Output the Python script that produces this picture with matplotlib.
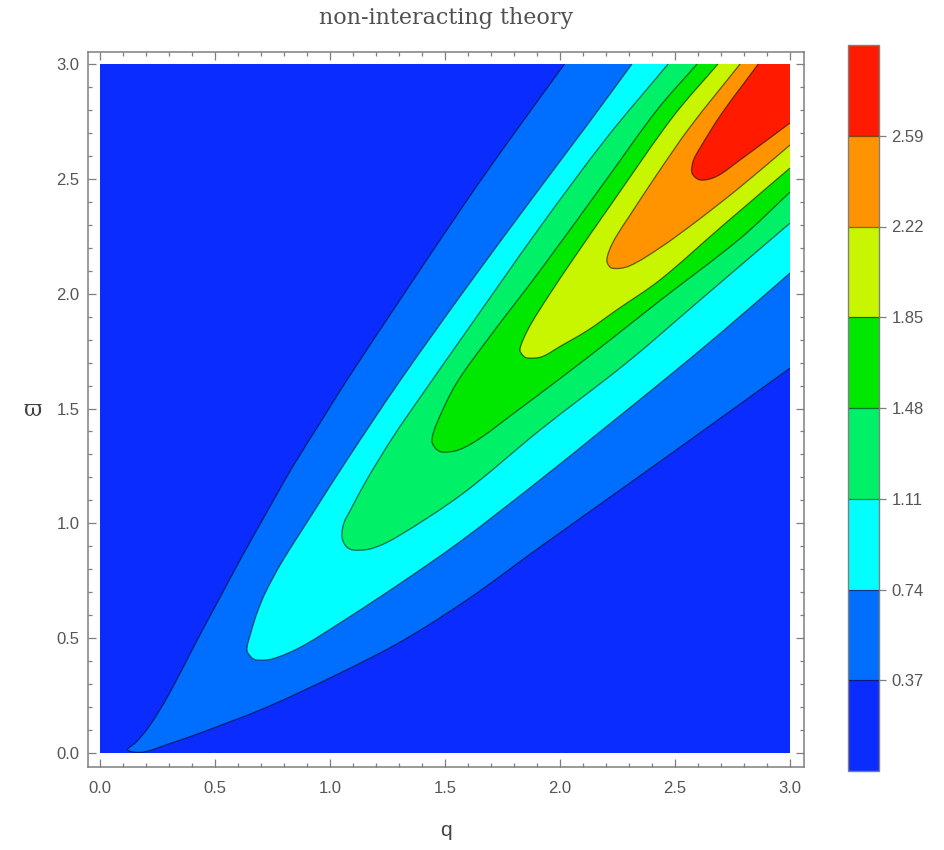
import numpy as np
import matplotlib.pyplot as plt
from matplotlib.colors import ListedColormap, BoundaryNorm
from matplotlib.path import Path
from matplotlib.patches import PathPatch

# contour levels and band colours (from the colour bar)
levels = [0.0, 0.37, 0.74, 1.11, 1.48, 1.85, 2.22, 2.59, 2.96]
band_colors = ['#0a2cff', '#006eff', '#00ffff', '#00f068',
               '#00e800', '#c8f500', '#ff9400', '#ff1a00']

# contour paths: top edge -> tip -> right edge
c1_q = [2.02, 1.77, 1.596, 1.304, 1.074, 0.965, 0.84, 0.76, 0.609, 0.509, 0.435, 0.36, 0.291, 0.217, 0.16, 0.12,
        0.187, 0.30, 0.435, 0.726, 1.043, 1.317, 1.60, 1.913, 2.45, 3.0]
c1_w = [3.0, 2.655, 2.407, 1.972, 1.624, 1.45, 1.25, 1.11, 0.84, 0.653, 0.515, 0.37, 0.24, 0.12, 0.05, 0.013,
        0.004, 0.04, 0.087, 0.2, 0.348, 0.49, 0.67, 0.897, 1.28, 1.676]

c2_q = [2.313, 2.13, 1.913, 1.596, 1.304, 1.074, 0.926, 0.79, 0.72, 0.683, 0.655, 0.639,
        0.66, 0.683, 0.75, 0.87, 1.043, 1.30, 1.565, 1.913, 2.2, 2.435, 2.7, 3.0]
c2_w = [3.0, 2.75, 2.46, 2.03, 1.62, 1.276, 1.045, 0.83, 0.70, 0.61, 0.52, 0.448,
        0.415, 0.405, 0.41, 0.46, 0.566, 0.735, 0.92, 1.189, 1.42, 1.61, 1.83, 2.09]

c3_q = [2.47, 2.204, 1.913, 1.596, 1.40, 1.274, 1.16, 1.09, 1.06, 1.052,
        1.07, 1.10, 1.18, 1.29, 1.578, 1.913, 2.291, 2.609, 3.0]
c3_w = [3.0, 2.68, 2.29, 1.84, 1.56, 1.376, 1.19, 1.06, 1.0, 0.94,
        0.90, 0.884, 0.89, 0.94, 1.13, 1.406, 1.70, 1.972, 2.307]

c4_q = [2.596, 2.422, 2.204, 1.913, 1.70, 1.55, 1.465, 1.443,
        1.46, 1.49, 1.56, 1.652, 1.80, 2.0, 2.22, 2.435, 2.783, 3.0]
c4_w = [3.0, 2.80, 2.50, 2.10, 1.82, 1.61, 1.437, 1.36,
        1.325, 1.31, 1.32, 1.37, 1.48, 1.63, 1.80, 1.97, 2.24, 2.442]

c5_q = [2.687, 2.491, 2.23, 2.057, 1.95, 1.875, 1.84, 1.826,
        1.84, 1.857, 1.92, 2.0, 2.12, 2.248, 2.435, 2.7, 3.0]
c5_w = [3.0, 2.77, 2.40, 2.15, 1.99, 1.87, 1.80, 1.754,
        1.73, 1.72, 1.725, 1.77, 1.84, 1.93, 2.06, 2.29, 2.547]

c6_q = [2.783, 2.565, 2.422, 2.30, 2.245, 2.215, 2.204,
        2.226, 2.30, 2.435, 2.6, 2.783, 3.0]
c6_w = [3.0, 2.725, 2.52, 2.335, 2.25, 2.19, 2.14,
        2.111, 2.12, 2.20, 2.32, 2.464, 2.647]

c7_q = [2.862, 2.70, 2.609, 2.58, 2.574,
        2.609, 2.68, 2.783, 3.0]
c7_w = [3.0, 2.78, 2.635, 2.58, 2.525,
        2.495, 2.51, 2.582, 2.743]

contours = [(c1_q, c1_w), (c2_q, c2_w), (c3_q, c3_w), (c4_q, c4_w),
            (c5_q, c5_w), (c6_q, c6_w), (c7_q, c7_w)]

q_range = [0.0, 3.0]
w_range = [0.0, 3.0]

grey = '#7f7f7f'
lab = '#555555'
tick_font = ['Liberation Sans Narrow', 'Liberation Sans', 'DejaVu Sans']


def smooth_path(xs, ys):
    # draw a smooth bezier curve through the read points
    P = np.column_stack([xs, ys]).astype(float)
    d = np.hypot(*np.diff(P, axis=0).T)
    n = len(P)
    T = np.zeros_like(P)
    T[0] = (P[1] - P[0]) / d[0]
    T[-1] = (P[-1] - P[-2]) / d[-1]
    for i in range(1, n - 1):
        T[i] = (P[i + 1] - P[i - 1]) / (d[i - 1] + d[i])
    verts = [P[0]]
    codes = [Path.MOVETO]
    for i in range(n - 1):
        verts += [P[i] + T[i] * d[i] / 3, P[i + 1] - T[i + 1] * d[i] / 3, P[i + 1]]
        codes += [Path.CURVE4] * 3
    return verts, codes


fig = plt.figure(figsize=(9.44, 8.5), dpi=100)
ax = fig.add_axes([88/944, 1 - 767/850, (804 - 88)/944, (767 - 52)/850])

# background band, then nested bands on top
ax.fill_between(q_range, w_range[0], w_range[1], color=band_colors[0], lw=0)
for k, (cq, cw) in enumerate(contours):
    verts, codes = smooth_path(cq, cw)
    fill_path = Path(verts + [(q_range[1], w_range[1]), verts[0]],
                     codes + [Path.LINETO, Path.CLOSEPOLY])
    ax.add_patch(PathPatch(fill_path, facecolor=band_colors[k + 1], lw=0))
for cq, cw in contours:
    verts, codes = smooth_path(cq, cw)
    ax.add_patch(PathPatch(Path(verts, codes), fill=False, edgecolor='black',
                           alpha=0.55, lw=0.9))

ax.set_xlim(-12/230, 3 + 14/230)
ax.set_ylim(-14/229.7, 3 + 12/229.7)

ax.set_xticks(np.arange(0, 3.01, 0.5))
ax.set_yticks(np.arange(0, 3.01, 0.5))
ax.set_xticks(np.arange(0, 3.01, 0.1), minor=True)
ax.set_yticks(np.arange(0, 3.01, 0.1), minor=True)
ax.set_xticklabels(['%.1f' % v for v in np.arange(0, 3.01, 0.5)])
ax.set_yticklabels(['%.1f' % v for v in np.arange(0, 3.01, 0.5)])
ax.tick_params(which='both', direction='in', top=True, right=True, color=grey, width=0.9)
ax.tick_params(which='major', length=5.5)
ax.tick_params(which='minor', length=3.2)
ax.tick_params(axis='x', pad=10, labelcolor=lab, labelsize=12)
ax.tick_params(axis='y', pad=6, labelcolor=lab, labelsize=12)
for t in ax.get_xticklabels() + ax.get_yticklabels():
    t.set_family(tick_font)
for s in ax.spines.values():
    s.set_color(grey)
    s.set_linewidth(1.1)

fig.text(446/944, 1 - 18/850, 'non-interacting theory', ha='center', va='center',
         family=['DejaVu Serif'], fontsize=16, color='#505050')
fig.text(446/944, 1 - 830/850, 'q', ha='center', va='center',
         family=tick_font, fontsize=15, color='#444444')
fig.text(33/944, 1 - 410/850, '\u03d6', ha='center', va='center',
         family=['DejaVu Serif'], fontsize=16, color='#444444')

# colour bar
cax = fig.add_axes([848/944, 1 - 771/850, 31/944, (771 - 45)/850])
cmap = ListedColormap(band_colors)
norm = BoundaryNorm(levels, cmap.N)
sm = plt.cm.ScalarMappable(norm=norm, cmap=cmap)
cb = fig.colorbar(sm, cax=cax, drawedges=True, ticks=levels[1:-1])
cb.set_ticklabels(['%.2f' % v for v in levels[1:-1]])
cb.dividers.set_color('black')
cb.dividers.set_alpha(0.5)
cb.dividers.set_linewidth(0.9)
cb.outline.set_edgecolor(grey)
cb.outline.set_linewidth(1.0)
cax.minorticks_off()
cax.tick_params(direction='out', length=5, width=0.9, color=grey, pad=4,
                labelcolor=lab, labelsize=12)
for t in cax.get_yticklabels():
    t.set_family(tick_font)

fig.savefig('out.png', dpi=100)
